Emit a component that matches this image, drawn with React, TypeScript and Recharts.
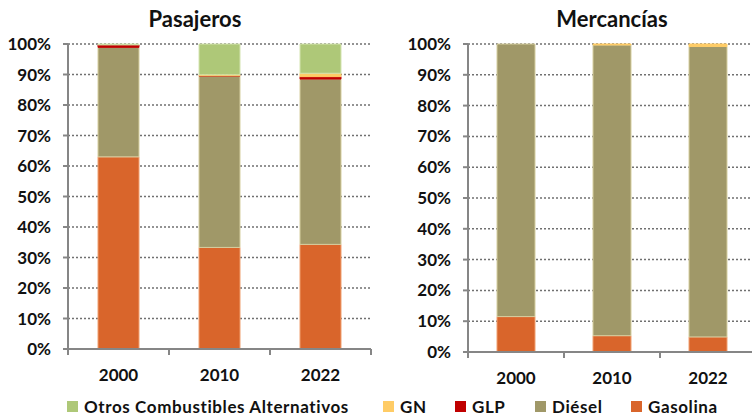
import { BarChart, Bar, XAxis, YAxis, CartesianGrid } from 'recharts'

const years = ['2000', '2010', '2022']
const yTicks = [0, 10, 20, 30, 40, 50, 60, 70, 80, 90, 100]

// Pasajeros (% share)
const pasGasolina = [63.0, 33.3, 34.3]
const pasDiesel = [35.9, 56.2, 54.2]
const pasGLP = [0.8, 0.1, 0.8]
const pasGN = [0.0, 0.3, 1.1]
const pasOtros = [0.3, 10.1, 9.6]

// Mercancías (% share)
const merGasolina = [11.5, 5.3, 4.9]
const merDiesel = [88.5, 94.4, 94.3]
const merGLP = [0.0, 0.0, 0.0]
const merGN = [0.0, 0.3, 0.8]
const merOtros = [0.0, 0.0, 0.0]

const FONT = 'Lato, "Open Sans", sans-serif'
const AXIS = '#868686'

const fuels = [
  { key: 'gasolina', name: 'Gasolina', color: '#D9652B', edge: '#F0A070' },
  { key: 'diesel', name: 'Diésel', color: '#A09868', edge: '#D6CFA0' },
  { key: 'glp', name: 'GLP', color: '#C00000', edge: '#C00000' },
  { key: 'gn', name: 'GN', color: '#FFCC66', edge: '#FFCC66' },
  { key: 'otros', name: 'Otros Combustibles Alternativos', color: '#AEC878', edge: '#D4E4B0' }
]

// legend order and left offset of each entry
const legendOrder = ['otros', 'gn', 'glp', 'diesel', 'gasolina']
const legendLeft = [67, 383, 455, 535, 631]

function buildRows(gas: number[], die: number[], glp: number[], gn: number[], otros: number[]) {
  return years.map((y, i) => ({
    year: y,
    gasolina: gas[i],
    diesel: die[i],
    glp: glp[i],
    gn: gn[i],
    otros: otros[i]
  }))
}

const pasajeros = buildRows(pasGasolina, pasDiesel, pasGLP, pasGN, pasOtros)
const mercancias = buildRows(merGasolina, merDiesel, merGLP, merGN, merOtros)

function CategoryTick(props: any) {
  const { x, y, payload, index, width, visibleTicksCount } = props
  const bw = width / visibleTicksCount
  const top = y - 8
  return (
    <g>
      <line x1={x - bw / 2} x2={x - bw / 2} y1={top} y2={top + 6} stroke={AXIS} strokeWidth={2} />
      {index === visibleTicksCount - 1 && (
        <line x1={x + bw / 2} x2={x + bw / 2} y1={top} y2={top + 6} stroke={AXIS} strokeWidth={2} />
      )}
      <text x={x} y={y + 24} textAnchor="middle" fontFamily={FONT} fontWeight={700} fontSize={17} fill="#111">
        {payload.value}
      </text>
    </g>
  )
}

interface PanelProps {
  data: any[]
  width: number
  height: number
  margin: { top: number; right: number; bottom: number; left: number }
  barSize: number
}

function Panel({ data, width, height, margin, barSize }: PanelProps) {
  return (
    <BarChart width={width} height={height} data={data} margin={margin} barSize={barSize}>
      <CartesianGrid vertical={false} stroke="#707070" strokeDasharray="2 2" strokeWidth={1.5} />
      <XAxis
        dataKey="year"
        axisLine={{ stroke: AXIS, strokeWidth: 2 }}
        tickLine={false}
        tick={<CategoryTick />}
        height={30}
        interval={0}
      />
      <YAxis
        domain={[0, 100]}
        ticks={yTicks}
        width={68}
        interval={0}
        axisLine={{ stroke: AXIS, strokeWidth: 2 }}
        tickLine={{ stroke: AXIS, strokeWidth: 2 }}
        tickSize={5}
        tickMargin={12}
        tickFormatter={(v: number) => `${v}%`}
        tick={{ fill: '#111', fontSize: 17, fontWeight: 700, fontFamily: FONT }}
      />
      {fuels.map(f => (
        <Bar
          key={f.key}
          dataKey={f.key}
          stackId="a"
          fill={f.color}
          stroke={f.edge}
          strokeWidth={1}
          isAnimationActive={false}
        />
      ))}
    </BarChart>
  )
}

export default function App() {
  return (
    <div
      style={{
        position: 'absolute',
        left: 0,
        top: 0,
        width: 752,
        height: 419,
        overflow: 'hidden',
        background: '#fff',
        fontFamily: FONT
      }}
    >
      <div style={{ position: 'absolute', left: 100, top: 5, width: 190, textAlign: 'center', fontSize: 22, fontWeight: 700, color: '#111' }}>
        Pasajeros
      </div>
      <div style={{ position: 'absolute', left: 517, top: 5, width: 190, textAlign: 'center', fontSize: 22, fontWeight: 700, color: '#111' }}>
        Mercancías
      </div>
      <div style={{ position: 'absolute', left: 0, top: 0 }}>
        <Panel data={pasajeros} width={380} height={390} margin={{ top: 44, right: 9, bottom: 11, left: 0 }} barSize={41} />
      </div>
      <div style={{ position: 'absolute', left: 400, top: 0 }}>
        <Panel data={mercancias} width={360} height={390} margin={{ top: 44, right: 4, bottom: 8, left: 0 }} barSize={38} />
      </div>
      {legendOrder.map((k, i) => {
        const f = fuels.find(x => x.key === k)!
        return (
          <div
            key={k}
            style={{
              position: 'absolute',
              left: legendLeft[i],
              top: 396,
              display: 'flex',
              alignItems: 'center',
              fontSize: 17,
              fontWeight: 700,
              color: '#111',
              whiteSpace: 'nowrap'
            }}
          >
            <span style={{ display: 'inline-block', width: 11, height: 11, background: f.color, marginRight: 6 }} />
            <span style={{ letterSpacing: 0.6 }}>{f.name}</span>
          </div>
        )
      })}
    </div>
  )
}
